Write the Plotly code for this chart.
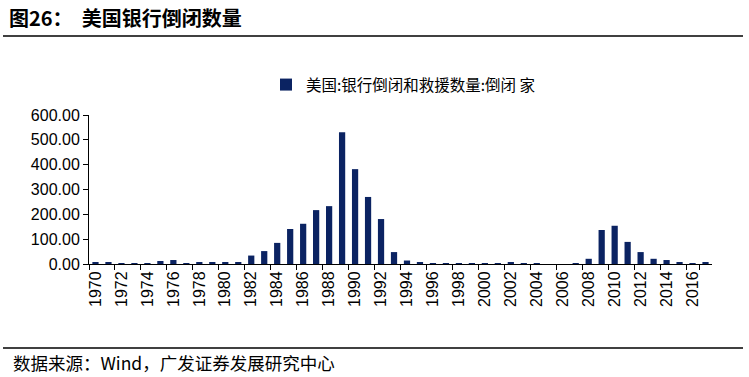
import plotly.graph_objects as go

years = [str(y) for y in range(1970, 2018)]
failures = [5, 5, 1, 4, 3, 12, 16, 4, 6, 8, 8, 8,
            34, 52, 85, 141, 162, 217, 233, 531, 382, 270, 181, 48,
            14, 6, 3, 1, 1, 4, 4, 2, 8, 1, 2, 0, 0, 1,
            21, 137, 154, 89, 48, 21, 16, 5, 2, 5]
tick_years = [str(y) for y in range(1970, 2018, 2)]
y_ticks = [0, 100, 200, 300, 400, 500, 600]

series_name = "美国:银行倒闭和救援数量:倒闭 家"
title_text = "<b>图26：  美国银行倒闭数量</b>"
source_text = "数据来源：Wind，广发证券发展研究中心"

W, H = 749, 377
L, R, T, B = 89, 37, 115, 113
pw, ph = W - L - R, H - T - B

def px(x):
    return (x - L) / pw

def py(y):
    return (H - B - y) / ph

fig = go.Figure()
fig.add_trace(go.Bar(x=years, y=failures, name=series_name,
                     marker=dict(color="#0B2362", line=dict(width=0))))

fig.update_layout(
    width=W, height=H,
    margin=dict(l=L, r=R, t=T, b=B),
    paper_bgcolor="white", plot_bgcolor="white",
    bargap=0.52,
    showlegend=True,
    legend=dict(orientation="h", x=px(266), y=py(85), xanchor="left", yanchor="middle",
                font=dict(family="Noto Sans CJK SC", size=15.5, color="#000"),
                itemwidth=30, bgcolor="rgba(0,0,0,0)"),
    xaxis=dict(type="category", tickmode="array", tickvals=tick_years, ticktext=tick_years,
               tickangle=-90, tickson="boundaries", ticks="outside", ticklen=5,
               tickcolor="#000", showline=True, linecolor="#000", linewidth=1,
               showgrid=False, tickfont=dict(family="Liberation Sans", size=16, color="#000")),
    yaxis=dict(range=[0, 600], tickvals=y_ticks, tickformat=".2f", ticks="outside",
               ticklen=5, tickcolor="#000", showline=True, linecolor="#000", linewidth=1,
               showgrid=False, zeroline=False,
               tickfont=dict(family="Liberation Sans", size=16, color="#000")),
    font=dict(family="Liberation Sans"),
)

fig.add_annotation(text=title_text, xref="paper", yref="paper", x=px(7), y=py(18),
                   xanchor="left", yanchor="middle", showarrow=False,
                   font=dict(family="Noto Sans CJK SC", size=20, color="#000"))
fig.add_annotation(text=source_text, xref="paper", yref="paper", x=px(11), y=py(362),
                   xanchor="left", yanchor="middle", showarrow=False,
                   font=dict(family="Noto Sans CJK SC", size=17.5, color="#000"))
fig.add_shape(type="line", xref="paper", yref="paper", x0=px(3), x1=px(743),
              y0=py(36), y1=py(36), line=dict(color="#000", width=1.5))
fig.add_shape(type="line", xref="paper", yref="paper", x0=px(3), x1=px(743),
              y0=py(348), y1=py(348), line=dict(color="#000", width=1.5))

fig.write_html("out.html", config={"displayModeBar": False},
               post_script="document.body.style.margin='0';")
